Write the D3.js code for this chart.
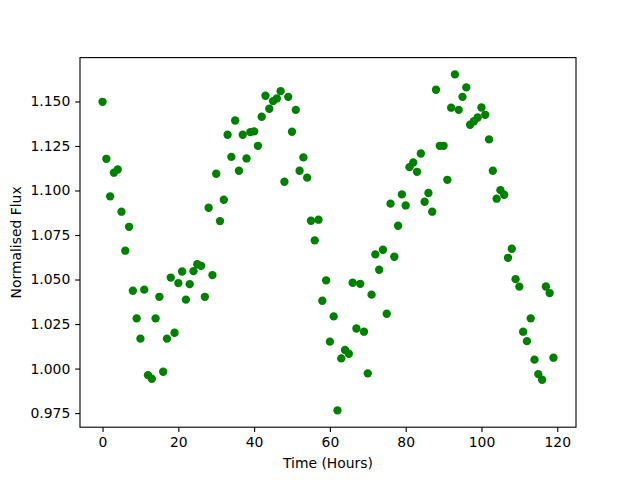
<!DOCTYPE html>
<html>
<head>
<meta charset="utf-8">
<script src="https://cdn.jsdelivr.net/npm/d3@7/dist/d3.min.js"></script>
<style>
  body { margin: 0; background: #fff; }
  text { font-family: "DejaVu Sans", sans-serif; }
</style>
</head>
<body>
<div id="chart"></div>
<script>
// hours since start of observation
const hours = d3.range(0, 120);

// normalised flux, one reading per hour
const flux = [
  1.1498, 1.1178, 1.0967, 1.1100, 1.1118, 1.0881, 1.0662, 1.0796, 1.0437, 1.0282,
  1.0168, 1.0443, 0.9963, 0.9943, 1.0282, 1.0403, 0.9982, 1.0168, 1.0511, 1.0201,
  1.0480, 1.0545, 1.0387, 1.0474, 1.0547, 1.0586, 1.0577, 1.0403, 1.0903, 1.0525,
  1.1094, 1.0828, 1.0948, 1.1313, 1.1189, 1.1393, 1.1111, 1.1313, 1.1180, 1.1328,
  1.1332, 1.1251, 1.1414, 1.1532, 1.1459, 1.1502, 1.1517, 1.1558, 1.1049, 1.1526,
  1.1330, 1.1453, 1.1111, 1.1186, 1.1072, 1.0830, 1.0720, 1.0836, 1.0381, 1.0495,
  1.0151, 1.0293, 0.9765, 1.0057, 1.0104, 1.0083, 1.0482, 1.0225, 1.0476, 1.0207,
  0.9973, 1.0415, 1.0641, 1.0555, 1.0667, 1.0308, 1.0926, 1.0628, 1.0802, 1.0978,
  1.0916, 1.1131, 1.1157, 1.1105, 1.1208, 1.0937, 1.0986, 1.0881, 1.1566, 1.1251,
  1.1251, 1.1060, 1.1465, 1.1652, 1.1453, 1.1526, 1.1579, 1.1369, 1.1389, 1.1410,
  1.1466, 1.1425, 1.1287, 1.1111, 1.0954, 1.1002, 1.0976, 1.0622, 1.0673, 1.0502,
  1.0460, 1.0207, 1.0154, 1.0282, 1.0050, 0.9969, 0.9937, 1.0461, 1.0424, 1.0061
];

const xTicks = [0, 20, 40, 60, 80, 100, 120];
const yTicks = [0.975, 1.0, 1.025, 1.05, 1.075, 1.1, 1.125, 1.15];

const data = hours.map((h, i) => ({ t: h, f: flux[i] }));

const W = 640, H = 480;
const margin = { top: 57.6, right: 64, bottom: 52.8, left: 80 };
const width = W - margin.left - margin.right;
const height = H - margin.top - margin.bottom;
const tick = 4.86, pad = 4.86;

// matplotlib style 5% margins
const pad5 = (lo, hi) => [lo - (hi - lo) * 0.05, hi + (hi - lo) * 0.05];

const x = d3.scaleLinear().domain(pad5(d3.min(hours), d3.max(hours))).range([0, width]);
const y = d3.scaleLinear().domain(pad5(d3.min(flux), d3.max(flux))).range([height, 0]);

const svg = d3.select("#chart").append("svg")
  .attr("width", W)
  .attr("height", H);

svg.append("rect").attr("width", W).attr("height", H).attr("fill", "#fff");

const g = svg.append("g").attr("transform", `translate(${margin.left},${margin.top})`);

g.selectAll(".dot")
  .data(data)
  .enter()
  .append("circle")
  .attr("class", "dot")
  .attr("cx", d => x(d.t))
  .attr("cy", d => y(d.f))
  .attr("r", 4.17)
  .attr("fill", "#008000");

const xAxis = g.append("g")
  .attr("transform", `translate(0,${height})`)
  .call(d3.axisBottom(x).tickValues(xTicks).tickSize(tick).tickPadding(pad).tickFormat(d3.format("d")));

const yAxis = g.append("g")
  .call(d3.axisLeft(y).tickValues(yTicks).tickSize(tick).tickPadding(pad).tickFormat(d3.format(".3f")));

[xAxis, yAxis].forEach(a => {
  a.select(".domain").remove();
  a.selectAll(".tick line").attr("stroke", "#000").attr("stroke-width", 1.11);
  a.selectAll(".tick text")
    .attr("fill", "#000")
    .style("font-size", "13.9px")
    .style("font-family", "'DejaVu Sans', sans-serif");
});

g.append("rect")
  .attr("width", width)
  .attr("height", height)
  .attr("fill", "none")
  .attr("stroke", "#000")
  .attr("stroke-width", 1.11);

svg.append("text")
  .attr("x", margin.left + width / 2)
  .attr("y", 468)
  .attr("text-anchor", "middle")
  .style("font-size", "13.9px")
  .text("Time (Hours)");

svg.append("text")
  .attr("transform", `translate(21,${margin.top + height / 2}) rotate(-90)`)
  .attr("text-anchor", "middle")
  .style("font-size", "13.9px")
  .text("Normalised Flux");
</script>
</body>
</html>
